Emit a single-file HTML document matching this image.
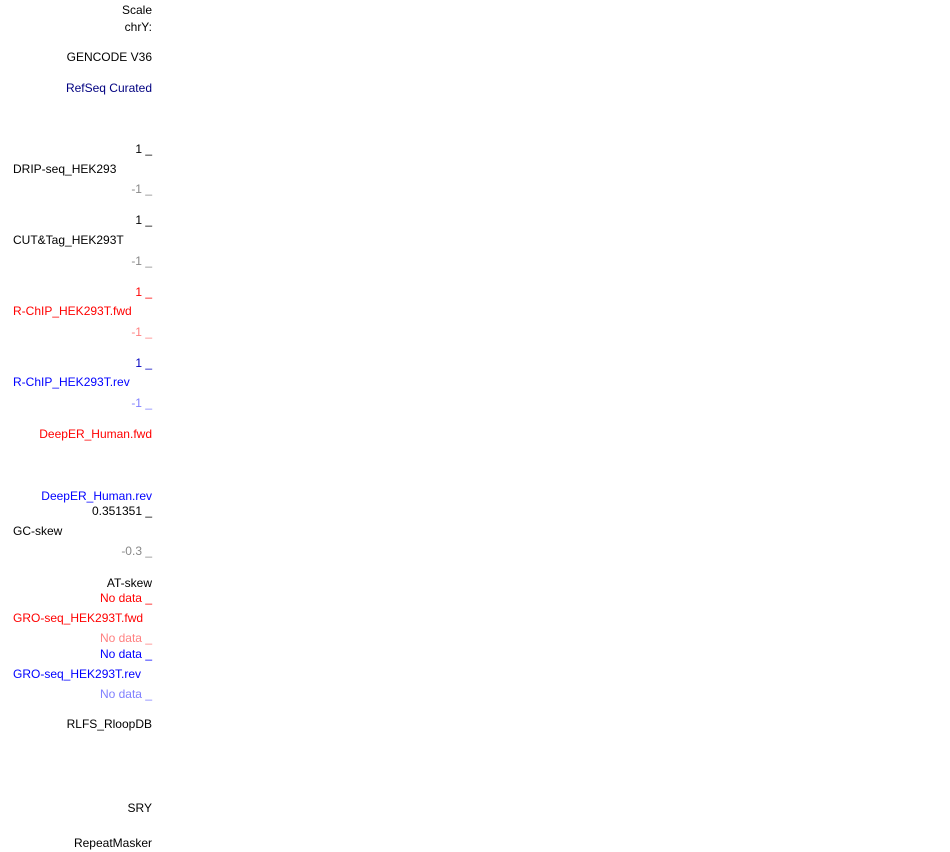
<!DOCTYPE html>
<html><head><meta charset="utf-8"><style>
body{margin:0;width:950px;height:852px;background:#fff;position:relative;overflow:hidden;font-family:"Liberation Sans",sans-serif;font-size:12px;}
.t{position:absolute;line-height:14px;white-space:nowrap;}
.r{right:798px;text-align:right;}
.l{left:13px;}
</style></head><body>
<div id="labels"></div>
<script>
const labels=[
[10,"Scale","r","#000"],[27,"chrY:","r","#000"],[57,"GENCODE V36","r","#000"],[88,"RefSeq Curated","r","#000080"],
[149,"1 _","r","#000"],[169,"DRIP-seq_HEK293","l","#000"],[189,"-1 _","r","#888"],
[220,"1 _","r","#000"],[240,"CUT&Tag_HEK293T","l","#000"],[261,"-1 _","r","#888"],
[292,"1 _","r","#f00"],[311,"R-ChIP_HEK293T.fwd","l","#f00"],[332,"-1 _","r","#ff8080"],
[363,"1 _","r","#0000c0"],[382,"R-ChIP_HEK293T.rev","l","#00f"],[403,"-1 _","r","#8080ff"],
[434,"DeepER_Human.fwd","r","#f00"],[496,"DeepER_Human.rev","r","#00f"],
[511,"0.351351 _","r","#000"],[531,"GC-skew","l","#000"],[551,"-0.3 _","r","#888"],
[583,"AT-skew","r","#000"],[598,"No data _","r","#f00"],[618,"GRO-seq_HEK293T.fwd","l","#f00"],[638,"No data _","r","#ff8080"],
[654,"No data _","r","#00f"],[674,"GRO-seq_HEK293T.rev","l","#00f"],[694,"No data _","r","#8080ff"],
[724,"RLFS_RloopDB","r","#000"],[808,"SRY","r","#000"],[843,"RepeatMasker","r","#000"]
];
const c=document.getElementById('labels');
labels.forEach(([y,t,a,col])=>{
const d=document.createElement('div');
d.className='t '+a;
d.style.top=(y-7)+'px';
d.style.color=col;
d.textContent=t;


c.appendChild(d);
});
</script>
</body></html>
